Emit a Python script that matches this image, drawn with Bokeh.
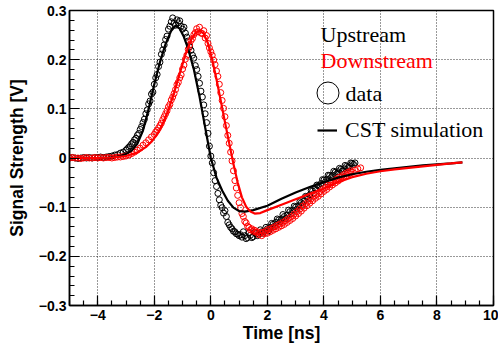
from bokeh.plotting import figure
from bokeh.models import (Range1d, SingleIntervalTicker, FixedTicker, CustomJSTickFormatter, Label,
                          Legend, LegendItem)
from bokeh.embed import file_html
from bokeh.resources import INLINE

# ---------------- data ----------------
up_data_t = [-5.0, -4.9, -4.8, -4.7, -4.6, -4.5, -4.4, -4.3, -4.2, -4.1, -4.0, -3.9, -3.8, -3.7, -3.6,
             -3.5, -3.4, -3.3, -3.2, -3.1, -3.0, -2.95, -2.9, -2.85, -2.8, -2.75, -2.7, -2.65, -2.6,
             -2.55, -2.5, -2.45, -2.4, -2.35, -2.3, -2.25, -2.2, -2.15, -2.1, -2.05, -2.0, -1.95,
             -1.9, -1.85, -1.8, -1.75, -1.7, -1.65, -1.6, -1.55, -1.5, -1.45, -1.4, -1.35, -1.3,
             -1.25, -1.2, -1.15, -1.1, -1.05, -1.0, -0.95, -0.9, -0.85, -0.8, -0.75, -0.7, -0.65,
             -0.6, -0.55, -0.5, -0.45, -0.4, -0.35, -0.3, -0.25, -0.2, -0.15, -0.1, -0.05, 0.0,
             0.05, 0.1, 0.15, 0.2, 0.25, 0.3, 0.35, 0.4, 0.45, 0.5, 0.55, 0.6, 0.65, 0.7, 0.75,
             0.8, 0.85, 0.9, 0.95, 1.0, 1.05, 1.1, 1.15, 1.2, 1.25, 1.3, 1.35, 1.4, 1.45, 1.5,
             1.55, 1.6, 1.65, 1.7, 1.75, 1.8, 1.85, 1.9, 1.95, 2.0, 2.05, 2.1, 2.15, 2.2, 2.25,
             2.3, 2.35, 2.4, 2.45, 2.5, 2.55, 2.6, 2.65, 2.7, 2.75, 2.8, 2.85, 2.9, 2.95, 3.0,
             3.05, 3.1, 3.15, 3.2, 3.25, 3.3, 3.35, 3.4, 3.45, 3.5, 3.55, 3.6, 3.65, 3.7, 3.75,
             3.8, 3.85, 3.9, 3.95, 4.0, 4.05, 4.1, 4.15, 4.2, 4.25, 4.3, 4.35, 4.4, 4.45, 4.5,
             4.55, 4.6, 4.65, 4.7, 4.75, 4.8, 4.85, 4.9, 4.95, 5.0, 5.05, 5.1]
up_data_v = [0.000, 0.001, 0.000, -0.001, 0.000, 0.001, 0.000, 0.001, 0.000, 0.001, 0.001, 0.002,
             0.001, 0.002, 0.003, 0.004, 0.006, 0.007, 0.010, 0.012, 0.016, 0.019, 0.022, 0.025,
             0.029, 0.032, 0.037, 0.040, 0.046, 0.050, 0.058, 0.064, 0.072, 0.079, 0.090, 0.098,
             0.110, 0.116, 0.130, 0.134, 0.150, 0.163, 0.170, 0.186, 0.195, 0.211, 0.220, 0.230,
             0.241, 0.248, 0.262, 0.268, 0.277, 0.285, 0.274, 0.270, 0.281, 0.275, 0.279, 0.268,
             0.262, 0.266, 0.254, 0.246, 0.238, 0.226, 0.219, 0.209, 0.203, 0.188, 0.180, 0.166,
             0.152, 0.136, 0.124, 0.108, 0.090, 0.072, 0.050, 0.024, 0.004, -0.010, -0.030,
             -0.046, -0.058, -0.072, -0.085, -0.096, -0.101, -0.112, -0.107, -0.119, -0.131,
             -0.136, -0.141, -0.144, -0.149, -0.150, -0.154, -0.155, -0.158, -0.156, -0.161,
             -0.150, -0.158, -0.164, -0.162, -0.152, -0.157, -0.162, -0.160, -0.151, -0.154,
             -0.158, -0.155, -0.146, -0.150, -0.153, -0.149, -0.141, -0.144, -0.148, -0.141,
             -0.133, -0.135, -0.139, -0.131, -0.124, -0.126, -0.130, -0.124, -0.115, -0.119,
             -0.123, -0.116, -0.106, -0.109, -0.113, -0.106, -0.098, -0.100, -0.104, -0.097,
             -0.089, -0.091, -0.094, -0.087, -0.078, -0.079, -0.083, -0.075, -0.066, -0.067,
             -0.072, -0.063, -0.055, -0.056, -0.060, -0.052, -0.044, -0.045, -0.049, -0.043,
             -0.035, -0.036, -0.040, -0.035, -0.027, -0.029, -0.033, -0.028, -0.021, -0.023,
             -0.027, -0.022, -0.015, -0.017, -0.020, -0.016, -0.010, -0.011, -0.013, -0.010]

down_data_t = [-5.0, -4.9, -4.8, -4.7, -4.6, -4.5, -4.4, -4.3, -4.2, -4.1, -4.0, -3.9, -3.8, -3.7,
               -3.6, -3.5, -3.4, -3.3, -3.2, -3.1, -3.0, -2.9, -2.8, -2.7, -2.6, -2.5, -2.4, -2.3,
               -2.2, -2.1, -2.0, -1.95, -1.9, -1.85, -1.8, -1.75, -1.7, -1.65, -1.6, -1.55, -1.5,
               -1.45, -1.4, -1.35, -1.3, -1.25, -1.2, -1.15, -1.1, -1.05, -1.0, -0.95, -0.9, -0.85,
               -0.8, -0.75, -0.7, -0.65, -0.6, -0.55, -0.5, -0.45, -0.4, -0.35, -0.3, -0.25, -0.2,
               -0.15, -0.1, -0.05, 0.0, 0.05, 0.1, 0.15, 0.2, 0.25, 0.3, 0.35, 0.4, 0.45, 0.5, 0.55,
               0.6, 0.65, 0.7, 0.75, 0.8, 0.85, 0.9, 0.95, 1.0, 1.05, 1.1, 1.15, 1.2, 1.25, 1.3,
               1.35, 1.4, 1.45, 1.5, 1.55, 1.6, 1.65, 1.7, 1.75, 1.8, 1.85, 1.9, 1.95, 2.0, 2.05,
               2.1, 2.15, 2.2, 2.25, 2.3, 2.35, 2.4, 2.45, 2.5, 2.55, 2.6, 2.65, 2.7, 2.75, 2.8,
               2.85, 2.9, 2.95, 3.0, 3.05, 3.1, 3.15, 3.2, 3.25, 3.3, 3.35, 3.4, 3.45, 3.5, 3.55,
               3.6, 3.65, 3.7, 3.75, 3.8, 3.85, 3.9, 3.95, 4.0, 4.05, 4.1, 4.15, 4.2, 4.25, 4.3,
               4.35, 4.4, 4.45, 4.5, 4.55, 4.6, 4.65, 4.7, 4.75, 4.8, 4.85, 4.9, 4.95, 5.0, 5.1,
               5.2, 5.3]
down_data_v = [0.000, 0.001, 0.000, 0.000, -0.001, 0.000, 0.001, 0.000, 0.000, 0.001, 0.000, 0.001,
               0.000, 0.001, 0.001, 0.000, 0.001, 0.002, 0.002, 0.003, 0.004, 0.006, 0.009, 0.012,
               0.016, 0.020, 0.026, 0.031, 0.037, 0.043, 0.048, 0.053, 0.056, 0.061, 0.066, 0.071,
               0.078, 0.084, 0.090, 0.096, 0.104, 0.109, 0.118, 0.124, 0.131, 0.139, 0.149, 0.154,
               0.163, 0.169, 0.181, 0.189, 0.201, 0.209, 0.221, 0.230, 0.239, 0.243, 0.251, 0.255,
               0.263, 0.257, 0.266, 0.254, 0.253, 0.259, 0.244, 0.249, 0.233, 0.224, 0.216, 0.209,
               0.199, 0.190, 0.177, 0.166, 0.150, 0.133, 0.117, 0.101, 0.084, 0.066, 0.046, 0.030,
               0.012, -0.006, -0.026, -0.046, -0.061, -0.076, -0.091, -0.101, -0.113, -0.119,
               -0.129, -0.132, -0.139, -0.141, -0.146, -0.144, -0.149, -0.147, -0.151, -0.150,
               -0.156, -0.152, -0.158, -0.151, -0.154, -0.148, -0.153, -0.145, -0.150, -0.143,
               -0.147, -0.140, -0.144, -0.137, -0.141, -0.134, -0.138, -0.131, -0.135, -0.127,
               -0.131, -0.123, -0.127, -0.119, -0.123, -0.114, -0.118, -0.109, -0.113, -0.104,
               -0.108, -0.098, -0.102, -0.093, -0.097, -0.088, -0.092, -0.083, -0.087, -0.078,
               -0.082, -0.074, -0.078, -0.069, -0.073, -0.064, -0.068, -0.060, -0.064, -0.055,
               -0.059, -0.051, -0.055, -0.047, -0.051, -0.043, -0.047, -0.039, -0.043, -0.036,
               -0.039, -0.032, -0.036, -0.029, -0.032, -0.026, -0.029, -0.025, -0.022, -0.020]

up_sim_t = [-5.0, -4.5, -4.0, -3.6, -3.4, -3.2, -3.0, -2.8, -2.6, -2.4, -2.2, -2.0, -1.8, -1.6,
            -1.4, -1.25, -1.1, -0.95, -0.8, -0.6, -0.4, -0.2, 0.0, 0.2, 0.4, 0.6, 0.8, 1.0, 1.2,
            1.5, 2.0, 2.5, 3.0, 3.5, 4.0, 4.5, 5.0, 5.5, 6.0, 6.5, 7.0, 7.5, 8.0, 8.5, 8.9]
up_sim_v = [0.0, 0.0, 0.0, 0.001, 0.002, 0.004, 0.008, 0.015, 0.029, 0.056, 0.100, 0.150, 0.195,
            0.232, 0.259, 0.269, 0.263, 0.246, 0.222, 0.180, 0.125, 0.062, 0.000, -0.040, -0.066,
            -0.087, -0.101, -0.108, -0.109, -0.106, -0.097, -0.083, -0.070, -0.059, -0.049,
            -0.040, -0.033, -0.028, -0.024, -0.021, -0.018, -0.015, -0.013, -0.011, -0.009]

down_sim_t = [-5.0, -4.0, -3.5, -3.0, -2.6, -2.3, -2.1, -1.9, -1.7, -1.5, -1.3, -1.1, -0.9, -0.7,
              -0.55, -0.4, -0.25, -0.1, 0.05, 0.2, 0.35, 0.5, 0.65, 0.8, 0.95, 1.1, 1.25, 1.4,
              1.55, 1.75, 2.0, 2.5, 3.0, 3.5, 4.0, 4.5, 5.0, 5.5, 6.0, 6.5, 7.0, 7.5, 8.0, 8.5, 8.9]
down_sim_v = [0.0, 0.0, 0.001, 0.004, 0.011, 0.022, 0.033, 0.048, 0.070, 0.098, 0.133, 0.172,
              0.210, 0.240, 0.254, 0.259, 0.253, 0.233, 0.200, 0.160, 0.117, 0.073, 0.030, -0.012,
              -0.050, -0.080, -0.099, -0.109, -0.113, -0.112, -0.106, -0.095, -0.084, -0.073,
              -0.062, -0.049, -0.039, -0.032, -0.027, -0.023, -0.020, -0.017, -0.014, -0.011,
              -0.009]

y_ticks = [-0.3, -0.2, -0.1, 0.0, 0.1, 0.2, 0.3]
y_minor_ticks = [-0.28, -0.26, -0.24, -0.22, -0.18, -0.16, -0.14, -0.12, -0.08, -0.06, -0.04,
                 -0.02, 0.02, 0.04, 0.06, 0.08, 0.12, 0.14, 0.16, 0.18, 0.22, 0.24, 0.26, 0.28]
legend_series = ["Upstream", "Downstream"]
legend_kinds = ["data", "CST simulation"]
x_title = "Time [ns]"
y_title = "Signal Strength [V]"

SERIF = "Liberation Serif"
SANS = "Liberation Sans"

# ---------------- figure ----------------
p = figure(frame_width=424, frame_height=295, output_backend="svg", toolbar_location=None,
           x_range=Range1d(-5, 10), y_range=Range1d(-0.3, 0.3),
           min_border_left=69, min_border_right=5, min_border_top=10, min_border_bottom=40)
p.background_fill_color = "white"
p.border_fill_color = "white"
p.outline_line_color = "black"
p.outline_line_width = 1.5

p.xaxis.ticker = SingleIntervalTicker(interval=2, num_minor_ticks=4)
p.yaxis.ticker = FixedTicker(ticks=y_ticks, minor_ticks=y_minor_ticks)
p.xaxis.formatter = CustomJSTickFormatter(
    code="return Math.round(tick).toString().replace('-', '\u2212');")
p.yaxis.formatter = CustomJSTickFormatter(
    code="if (Math.abs(tick) < 1e-9) { return '0'; } return tick.toFixed(1).replace('-', '\u2212');")

for ax in (p.xaxis, p.yaxis):
    ax.major_tick_in = 10
    ax.major_tick_out = 0
    ax.minor_tick_in = 5
    ax.minor_tick_out = 0
    ax.axis_line_width = 1.5
    ax.major_tick_line_width = 1.2
    ax.minor_tick_line_width = 1.2
    ax.major_label_text_font = SANS
    ax.major_label_text_font_style = "bold"
    ax.major_label_text_font_size = "14px"
    ax.major_label_text_color = "black"
    ax.axis_label_text_font = SANS
    ax.axis_label_text_font_style = "bold"
    ax.axis_label_text_font_size = "17.5px"
    ax.axis_label_text_color = "black"

p.xaxis.major_label_standoff = 4
p.yaxis.major_label_standoff = 3
p.xaxis.axis_label = x_title
p.yaxis.axis_label = y_title
p.xaxis.axis_label_standoff = 0
p.yaxis.axis_label_standoff = 9

for g in (p.xgrid, p.ygrid):
    g.grid_line_color = "black"
    g.grid_line_dash = "1 2"
    g.grid_line_width = 1
    g.grid_line_alpha = 0.8

# data & simulation
data_up = p.scatter(up_data_t, up_data_v, marker="circle", size=6, fill_color=None,
                    line_color="black", line_width=1)
p.scatter(down_data_t, down_data_v, marker="circle", size=6, fill_color=None,
          line_color="red", line_width=1)
sim_up = p.line(up_sim_t, up_sim_v, line_color="black", line_width=2.2)
p.line(down_sim_t, down_sim_v, line_color="red", line_width=2.2)

# legend texts
def legend_text(x, y, text, color):
    p.add_layout(Label(x=x, y=y, x_units="screen", y_units="screen", text=text,
                       text_font=SERIF, text_font_size="22px", text_color=color,
                       text_baseline="alphabetic"))

legend_text(251, 271, legend_series[0], "black")
legend_text(251, 245, legend_series[1], "red")
legend_text(276, 212, legend_kinds[0], "black")

leg_a = Legend(items=[LegendItem(label=" ", renderers=[data_up])],
               location=(230.5, 185), glyph_width=55, glyph_height=55, label_standoff=0,
               padding=0, margin=0, spacing=0, border_line_color=None,
               background_fill_alpha=0, label_text_font=SERIF,
               label_text_font_size="22px", label_text_color="black")
leg_b = Legend(items=[LegendItem(label=legend_kinds[1], renderers=[sim_up])],
               location=(248, 162), glyph_width=20, glyph_height=20, label_standoff=8,
               padding=0, margin=0, spacing=0, border_line_color=None,
               background_fill_alpha=0, label_text_font=SERIF,
               label_text_font_size="22px", label_text_color="black")
p.add_layout(leg_a, "center")
p.add_layout(leg_b, "center")

open("out.html", "w").write(file_html(p, INLINE))
